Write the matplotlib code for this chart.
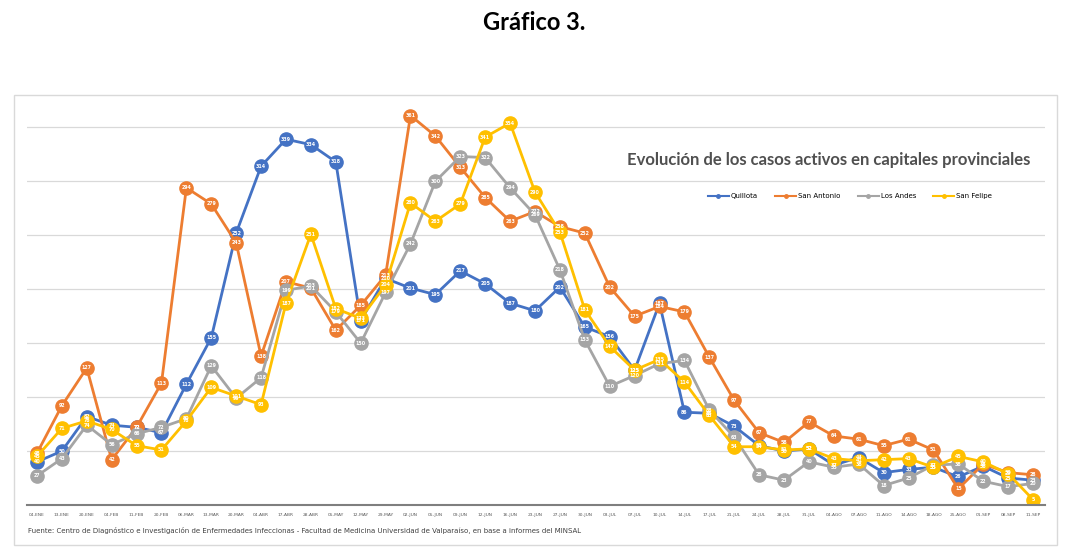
import matplotlib
matplotlib.use('Agg')
import matplotlib.pyplot as plt
import matplotlib.patches as patches
from matplotlib.lines import Line2D

W, H = 1069, 560

fechas = ['04-ENE', '13-ENE', '20-ENE', '04-FEB', '11-FEB', '20-FEB', '06-MAR', '13-MAR', '20-MAR', '04-ABR',
          '17-ABR', '28-ABR', '05-MAY', '12-MAY', '29-MAY', '02-JUN', '05-JUN', '09-JUN', '12-JUN', '16-JUN',
          '23-JUN', '27-JUN', '30-JUN', '03-JUL', '07-JUL', '10-JUL', '14-JUL', '17-JUL', '21-JUL', '24-JUL',
          '28-JUL', '31-JUL', '04-AGO', '07-AGO', '11-AGO', '14-AGO', '18-AGO', '25-AGO', '01-SEP', '08-SEP',
          '11-SEP']

quillota = [40, 50, 82, 74, 72, 67, 112, 155, 252, 314, 339, 334, 318, 171, 210, 201, 195, 217, 205, 187,
            180, 202, 165, 156, 125, 187, 86, 85, 73, 55, 50, 52, 37, 44, 30, 33, 35, 26, 36, 25, 23]
san_antonio = [48, 92, 127, 42, 72, 113, 294, 279, 243, 138, 207, 201, 162, 185, 213, 361, 342, 313, 285, 263,
               272, 258, 252, 202, 175, 184, 179, 137, 97, 67, 58, 77, 64, 61, 55, 61, 51, 15, 38, 30, 28]
los_andes = [27, 43, 74, 56, 66, 72, 80, 129, 99, 118, 199, 203, 179, 150, 197, 242, 300, 323, 322, 294,
             269, 218, 153, 110, 120, 131, 134, 88, 63, 28, 23, 40, 35, 38, 18, 25, 37, 38, 22, 17, 20]
san_felipe = [45, 71, 78, 70, 55, 51, 78, 109, 101, 93, 187, 251, 182, 173, 204, 280, 263, 279, 341, 354,
              290, 253, 181, 147, 125, 135, 114, 83, 54, 54, 51, 52, 43, 41, 42, 43, 35, 45, 40, 29, 5]

series = [('Quillota', quillota, '#4472C4'),
          ('San Antonio', san_antonio, '#ED7D31'),
          ('Los Andes', los_andes, '#A5A5A5'),
          ('San Felipe', san_felipe, '#FFC000')]

fig = plt.figure(figsize=(W / 100, H / 100), dpi=100)

# marco del grafico
fig.patches.append(patches.Rectangle((14 / W, 1 - 545 / H), (1057 - 14) / W, (545 - 95) / H,
                                     transform=fig.transFigure, fill=False, edgecolor='#d9d9d9', linewidth=1))

ax = fig.add_axes([27 / W, 1 - 505 / H, (1045 - 27) / W, (505 - 95) / H])
x = list(range(len(fechas)))
ax.set_xlim(-0.40, len(fechas) - 1 + 0.48)
ax.set_ylim(0, 380)

for y in range(50, 400, 50):
    ax.axhline(y, color='#d9d9d9', linewidth=0.9, zorder=0)

for nombre, vals, color in series:
    ax.plot(x, vals, color=color, linewidth=2, marker='o', markersize=9.5,
            markeredgecolor=color, label=nombre, zorder=2)
    for xi, v in zip(x, vals):
        ax.text(xi, v, str(v), ha='center', va='center', fontsize=3.4, color='white',
                fontweight='bold', zorder=3)

for s in ['top', 'right', 'left']:
    ax.spines[s].set_visible(False)
ax.spines['bottom'].set_color('#7f7f7f')
ax.spines['bottom'].set_linewidth(1.5)
ax.set_yticks([])
ax.set_xticks(x)
ax.set_xticklabels(fechas, fontsize=3.2, color='#595959')
ax.tick_params(axis='x', length=0, pad=6)

fig.text(0.5, 1 - 22 / H, 'Gráfico 3.', ha='center', va='center', fontsize=17,
         fontweight='bold', family='Lato')
fig.text(1030 / W, 1 - 160 / H, 'Evolución de los casos activos en capitales provinciales',
         ha='right', va='center', fontsize=12, fontweight='bold', color='#505050', family='Lato')

handles = [Line2D([], [], color=c, linewidth=1.5, marker='o', markersize=2.5) for _, _, c in series]
fig.legend(handles, [n for n, _, _ in series], loc='center', bbox_to_anchor=(850 / W, 1 - 196 / H),
           ncol=4, frameon=False, fontsize=5, handlelength=3, columnspacing=2.5, handletextpad=0.3)

fig.text(28 / W, 1 - 531 / H,
         'Fuente: Centro de Diagnóstico e Investigación de Enfermedades Infeccionas - Facultad de Medicina '
         'Universidad de Valparaíso, en base a informes del MINSAL',
         ha='left', va='center', fontsize=5, color='#404040')

fig.savefig('out.png', dpi=100)
